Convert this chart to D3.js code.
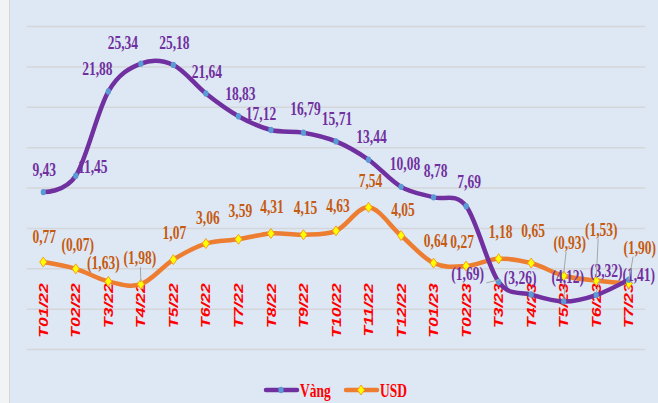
<!DOCTYPE html>
<html>
<head>
<meta charset="utf-8">
<script src="https://cdn.jsdelivr.net/npm/d3@7/dist/d3.min.js"></script>
<style>
  html, body { margin: 0; padding: 0; background: #dee8f4; }
  svg { display: block; }
</style>
</head>
<body>
<svg id="chart" width="658" height="403"></svg>
<script>
const categories = ["T01/22","T02/22","T3/22","T4/22","T5/22","T6/22","T7/22","T8/22","T9/22","T10/22","T11/22","T12/22","T01/23","T02/23","T3/23","T4/23","T5/23","T6/23","T7/23"];
const goldValues = [9.43, 11.45, 21.88, 25.34, 25.18, 21.64, 18.83, 17.12, 16.79, 15.71, 13.44, 10.08, 8.78, 7.69, -1.69, -3.26, -4.12, -3.32, -1.41];
const usdValues  = [0.77, -0.07, -1.63, -1.98, 1.07, 3.06, 3.59, 4.31, 4.15, 4.63, 7.54, 4.05, 0.64, 0.27, 1.18, 0.65, -0.93, -1.53, -1.90];
const seriesNames = ["Vàng", "USD"];
const yTicks = [-10, -5, 0, 5, 10, 15, 20, 25, 30];

// label placement (dx, dy from point, leader flag) – layout only
const goldLabelPos = [[1,-16,0],[17,-3,0],[-11,-17,0],[-18,-15,0],[1,-16,0],[1,-16,0],[2,-16,0],[-10,-10,0],[2,-18,0],[1,-16,0],[3,-17,0],[4,-17,0],[2,-20,0],[3,-18,0],[-31,-2,1],[-11,-11,0],[4,-19,1],[10,-18,1],[10,1,1]];
const usdLabelPos  = [[1,-19,0],[2,-18,0],[-5,-12,0],[-1,-20,1],[1,-21,0],[2,-20,0],[2,-22,0],[1,-20,0],[2,-21,0],[2,-19,0],[2,-20,0],[2,-20,0],[2,-16,0],[-4,-18,0],[2,-21,0],[2,-26,0],[6,-27,1],[5,-45,1],[11,-30,1]];

const svg = d3.select("#chart");
const W = 658, H = 403;
const plotLeft = 27, plotRight = 645, plotTop = 26, plotBottom = 349;
const SQ = 0.73; // horizontal squeeze of text

svg.append("rect").attr("x",0).attr("y",0).attr("width",W).attr("height",H).attr("fill","#dee8f4");
svg.append("rect").attr("x",0).attr("y",0).attr("width",9).attr("height",H).attr("fill","#f2f3f5");
svg.append("line").attr("x1",9.5).attr("x2",9.5).attr("y1",0).attr("y2",H).attr("stroke","#d6d6d6").attr("stroke-width",1);

const x = d3.scaleBand().domain(categories).range([plotLeft, plotRight]);
const cx = d => x(d) + x.bandwidth()/2;
const y = d3.scaleLinear().domain([-10, 30]).range([plotBottom, plotTop]);

// gridlines
const grid = svg.append("g").attr("transform", `translate(${plotLeft},0)`)
  .call(d3.axisLeft(y).tickValues(yTicks).tickSize(-(plotRight-plotLeft)).tickFormat(""));
grid.select(".domain").remove();
grid.selectAll(".tick line").attr("stroke","#d4d6d9").attr("stroke-width",1.5);

// x axis labels
const xa = svg.append("g").attr("transform", `translate(0,${y(0)})`)
  .call(d3.axisBottom(x).tickSize(0));
xa.select(".domain").remove();
xa.selectAll(".tick text")
  .attr("x",0).attr("y",0).attr("dy","0.36em")
  .attr("text-anchor","end")
  .attr("transform",`translate(0,15) scale(${SQ},1) rotate(-90)`)
  .attr("fill","#ff0000")
  .style("font-family","'Liberation Sans', Arial, sans-serif")
  .style("font-weight","bold").style("font-style","italic")
  .style("font-size","17.5px");

const line = d3.line().x((d,i)=>cx(categories[i])).y(d=>y(d)).curve(d3.curveCardinal.tension(0));

const fmt = v => {
  const s = Math.abs(v).toFixed(2).replace(".", ",");
  return v < 0 ? "(" + s + ")" : s;
};

function drawLabels(values, pos, color){
  const g = svg.append("g");
  values.forEach((v,i)=>{
    const px = cx(categories[i]), py = y(v);
    const [dx, dy, lead] = pos[i];
    if (lead) {
      g.append("line").attr("x1",px+dx*0.4).attr("y1",py+dy+3).attr("x2",px).attr("y2",py-2)
        .attr("stroke","#a6a6a6").attr("stroke-width",1);
    }
    g.append("text")
      .attr("transform",`translate(${px+dx},${py+dy}) scale(${SQ},1)`)
      .attr("text-anchor","middle")
      .attr("fill",color)
      .style("font-family","'Liberation Serif','Times New Roman',serif")
      .style("font-weight","bold").style("font-size","18.5px")
      .text(fmt(v));
  });
}

// USD series
svg.append("path").datum(usdValues).attr("d",line).attr("fill","none")
  .attr("stroke","#ed7d31").attr("stroke-width",4.5).attr("stroke-linecap","round");
// Gold series
svg.append("path").datum(goldValues).attr("d",line).attr("fill","none")
  .attr("stroke","#7030a0").attr("stroke-width",4.5).attr("stroke-linecap","round");

const diamond = (px,py,w,h) => `M${px},${py-h/2} L${px+w/2},${py} L${px},${py+h/2} L${px-w/2},${py} Z`;

svg.append("g").selectAll("path").data(usdValues).join("path")
  .attr("d",(d,i)=>diamond(cx(categories[i]), y(d), 7, 10))
  .attr("fill","#ffff00").attr("stroke","#f4a020").attr("stroke-width",1);
svg.append("g").selectAll("ellipse").data(goldValues).join("ellipse")
  .attr("cx",(d,i)=>cx(categories[i])).attr("cy",d=>y(d))
  .attr("rx",2.6).attr("ry",3.2).attr("fill","#5b9bd5");

drawLabels(goldValues, goldLabelPos, "#7030a0");
drawLabels(usdValues, usdLabelPos, "#c55a11");

// legend
const lg = svg.append("g");
const ly = 390;
lg.append("line").attr("x1",266).attr("x2",297).attr("y1",ly).attr("y2",ly).attr("stroke","#7030a0").attr("stroke-width",4.5).attr("stroke-linecap","round");
lg.append("ellipse").attr("cx",281).attr("cy",ly).attr("rx",2.6).attr("ry",3.2).attr("fill","#5b9bd5");
lg.append("text").attr("transform",`translate(300,${ly+7}) scale(${SQ},1)`).attr("fill","#ff0000")
  .style("font-family","'Liberation Serif','Times New Roman',serif").style("font-weight","bold").style("font-size","18.5px")
  .text(seriesNames[0]);
lg.append("line").attr("x1",346).attr("x2",377).attr("y1",ly).attr("y2",ly).attr("stroke","#ed7d31").attr("stroke-width",4.5).attr("stroke-linecap","round");
lg.append("path").attr("d",diamond(361,ly,7,10)).attr("fill","#ffff00").attr("stroke","#f4a020").attr("stroke-width",1);
lg.append("text").attr("transform",`translate(380,${ly+7}) scale(${SQ},1)`).attr("fill","#ff0000")
  .style("font-family","'Liberation Serif','Times New Roman',serif").style("font-weight","bold").style("font-size","18.5px")
  .text(seriesNames[1]);
</script>
</body>
</html>
